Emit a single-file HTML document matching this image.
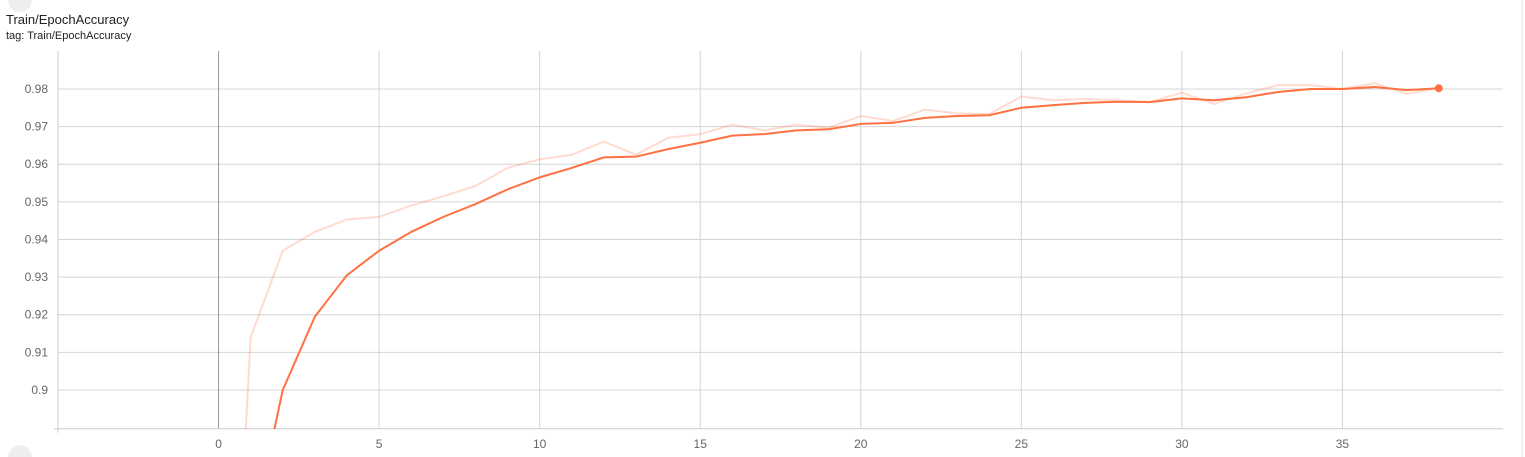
<!DOCTYPE html>
<html><head><meta charset="utf-8"><style>
html,body{margin:0;background:#fff;width:1525px;height:457px;overflow:hidden;font-family:"Liberation Sans",sans-serif;}
svg{display:block;}
</style></head><body>
<svg width="1525" height="457">
<path d="M8,0 A12,12 0 0 0 32,0 Z" fill="#eee"/>
<path d="M8,457 A12,12 0 0 1 32,457 Z" fill="#eee"/>
<text x="6" y="24" font-size="13" fill="#212121">Train/EpochAccuracy</text>
<text x="6" y="39" font-size="11" fill="#212121">tag: Train/EpochAccuracy</text>
<line x1="1522" y1="0" x2="1522" y2="457" stroke="#e0e0e0"/>
<g id="grid"></g><g id="axes"></g>
<defs><clipPath id="pc"><rect x="58" y="51" width="1445" height="378"/></clipPath></defs>
<g id="series" clip-path="url(#pc)"></g>
<g id="dot"></g>
</svg>
<script>
const epochs=[0,1,2,3,4,5,6,7,8,9,10,11,12,13,14,15,16,17,18,19,20,21,22,23,24,25,26,27,28,29,30,31,32,33,34,35,36,37,38];
const rawValues=[0.752,0.914,0.937,0.942,0.9453,0.946,0.949,0.9515,0.9542,0.959,0.9613,0.9625,0.966,0.9625,0.967,0.968,0.9705,0.969,0.9705,0.9697,0.9728,0.9715,0.9745,0.9735,0.9733,0.978,0.977,0.9773,0.977,0.9765,0.979,0.976,0.9788,0.981,0.981,0.98,0.9815,0.9787,0.9802];
const smoothValues=[0.75,0.86,0.900,0.9195,0.9305,0.937,0.942,0.946,0.9494,0.9533,0.9565,0.959,0.9618,0.962,0.964,0.9657,0.9676,0.968,0.969,0.9693,0.9707,0.971,0.9723,0.9728,0.973,0.975,0.9757,0.9763,0.9766,0.9765,0.9775,0.977,0.9778,0.9792,0.98,0.98,0.9805,0.9797,0.9802];
const xTicks=[0,5,10,15,20,25,30,35];
const yTicks=[0.9,0.91,0.92,0.93,0.94,0.95,0.96,0.97,0.98];
const yTickLabels=["0.9","0.91","0.92","0.93","0.94","0.95","0.96","0.97","0.98"];
const NS="http://www.w3.org/2000/svg";
const X0=58,X1=1503,XD0=-5,XD1=40,Y0=428.7,YD0=0.8897,YPX=3762.5;
function xs(v){return X0+(v-XD0)*(X1-X0)/(XD1-XD0);}
function ys(v){return Y0-(v-YD0)*YPX;}
function mk(t,a,p){const e=document.createElementNS(NS,t);for(const k in a)e.setAttribute(k,a[k]);p.appendChild(e);return e;}
const grid=document.getElementById('grid'),axes=document.getElementById('axes'),series=document.getElementById('series');
yTicks.forEach((v,i)=>{
 const l=mk('line',{x1:X0,x2:X1,y1:ys(v),y2:ys(v),stroke:'#d4d4d4'},grid);
 
 
 const t=mk('text',{x:48,y:ys(v)+4,'text-anchor':'end','font-size':12,fill:'#666'},axes);
 t.textContent=yTickLabels[i];
 
 
});
xTicks.forEach(v=>{
 const l=mk('line',{x1:xs(v),x2:xs(v),y1:51,y2:Y0,stroke:v===0?'#999':'#d4d4d4'},grid);
 
 
 const t=mk('text',{x:xs(v),y:448,'text-anchor':'middle','font-size':12,fill:'#666'},axes);
 t.textContent=String(v);
 
 
});
const ya=mk('line',{x1:X0,x2:X0,y1:51,y2:Y0+4,stroke:'#ccc'},axes);


const xa=mk('line',{x1:X0-4,x2:X1,y1:Y0,y2:Y0,stroke:'#ccc'},axes);


function pts(arr){return epochs.map((e,i)=>xs(e)+','+ys(arr[i])).join(' ');}
const raw=mk('polyline',{points:pts(rawValues),fill:'none',stroke:'#ff7043','stroke-opacity':0.25,'stroke-width':2},series);


const sm=mk('polyline',{points:pts(smoothValues),fill:'none',stroke:'#ff7043','stroke-width':2},series);


const n=epochs.length-1;
const d=mk('circle',{cx:xs(epochs[n]),cy:ys(smoothValues[n]),r:4,fill:'#ff7043'},document.getElementById('dot'));


</script>
</body></html>
